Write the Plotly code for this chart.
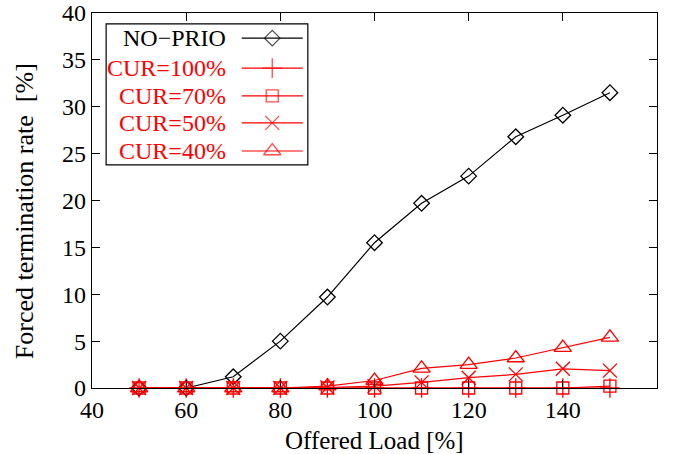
import plotly.graph_objects as go

load = [50, 60, 70, 80, 90, 100, 110, 120, 130, 140, 150]
no_prio = [0, 0, 1.2, 5.0, 9.7, 15.5, 19.7, 22.6, 26.8, 29.1, 31.5]
cur100 = [0, 0, 0, 0, 0, 0, 0, 0, 0, 0, 0]
cur70 = [0, 0, 0, 0, 0, 0, 0, 0, 0, 0, 0.2]
cur50 = [0, 0, 0, 0, 0.05, 0.2, 0.6, 1.1, 1.45, 2.05, 1.85]
cur40 = [0, 0, 0, 0, 0.2, 0.8, 2.1, 2.5, 3.2, 4.3, 5.4]

names = ["NO\u2212PRIO", "CUR=100%", "CUR=70%", "CUR=50%", "CUR=40%"]
series = [no_prio, cur100, cur70, cur50, cur40]
colors = ["black", "red", "red", "red", "red"]
symbols = ["diamond-open", "cross-thin", "square-open", "x-thin", "triangle-up-open"]
sizes = [12, 14, 12, 14, 15]

FONT = "Liberation Serif"
FS = 24
fig = go.Figure()

for i in range(5):
    fig.add_trace(go.Scatter(
        x=load, y=series[i], mode="lines+markers", name=names[i],
        line=dict(color=colors[i], width=1.2),
        marker=dict(symbol=symbols[i], size=sizes[i], color=colors[i],
                    line=dict(color=colors[i], width=1.3)),
        showlegend=False, cliponaxis=False))

# custom legend (right-aligned text, sample on the right) on an overlay axis
leg_y = [0.933, 0.853, 0.779, 0.707, 0.632]
x0, x1 = 0.265, 0.373
for i in range(5):
    fig.add_trace(go.Scatter(
        x=[x0, (x0 + x1) / 2, x1], y=[leg_y[i]] * 3, xaxis="x2", yaxis="y2",
        mode="lines+markers", line=dict(color=colors[i], width=1.2),
        marker=dict(symbol=symbols[i], size=[0, sizes[i], 0], color=colors[i],
                    line=dict(color=colors[i], width=1.3)),
        showlegend=False, hoverinfo="skip"))
    fig.add_annotation(x=0.241, y=leg_y[i], xref="x2", yref="y2", text=names[i],
                       showarrow=False, xanchor="right", yanchor="middle",
                       font=dict(family=FONT, size=FS, color=colors[i]))

fig.add_shape(type="rect", xref="x2", yref="y2", x0=0.025, x1=0.382, y0=0.595, y1=0.971,
              line=dict(color="black", width=1.2), fillcolor="white", layer="below")

# axis titles
fig.add_annotation(x=-0.120, y=0.472, xref="paper", yref="paper",
                   text="Forced termination rate\u00a0\u00a0[%]",
                   textangle=-90, showarrow=False, xanchor="center", yanchor="middle",
                   font=dict(family=FONT, size=26, color="black"))
fig.add_annotation(x=0.5, y=-0.139, xref="paper", yref="paper", text="Offered Load [%]",
                   showarrow=False, xanchor="center", yanchor="middle",
                   font=dict(family=FONT, size=25, color="black"))

fig.update_layout(
    width=674, height=454,
    margin=dict(l=92, r=17, t=13, b=66),
    plot_bgcolor="white", paper_bgcolor="white",
    font=dict(family=FONT, size=FS, color="black"),
    xaxis=dict(range=[40, 160], tickvals=[40, 60, 80, 100, 120, 140, 160],
               ticks="inside", ticklen=8, tickwidth=1, tickcolor="black",
               showline=True, linecolor="black", linewidth=1.2, mirror="allticks",
               showgrid=False, zeroline=False, automargin=False,
               tickfont=dict(size=FS)),
    yaxis=dict(range=[0, 40], tickvals=[0, 5, 10, 15, 20, 25, 30, 35, 40],
               ticks="inside", ticklen=8, tickwidth=1, tickcolor="black",
               showline=True, linecolor="black", linewidth=1.2, mirror="allticks",
               showgrid=False, zeroline=False, automargin=False,
               tickfont=dict(size=FS)),
    xaxis2=dict(range=[0, 1], overlaying="x", visible=False, fixedrange=True),
    yaxis2=dict(range=[0, 1], overlaying="y", visible=False, fixedrange=True),
    showlegend=False,
)

fig.write_html("out.html", config={"displayModeBar": False},
               post_script="document.body.style.margin='0';document.body.style.overflow='hidden';")
